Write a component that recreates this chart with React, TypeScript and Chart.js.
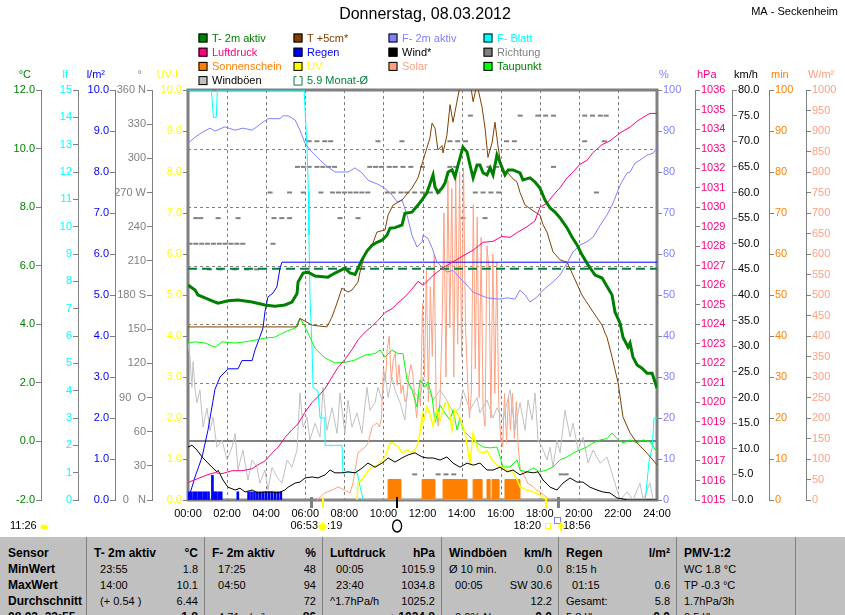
import React, { useEffect, useRef } from 'react';
import { Chart, registerables } from 'chart.js';

Chart.register(...registerables);

const FONT = '"Liberation Sans", Arial, Helvetica, sans-serif';

// ---------------- data (hour of day, value) ----------------
const T2M: [number, number][] = [
  [0, 5.34], [0.36, 5.17], [0.51, 5.0], [0.87, 4.9], [1.38, 4.76], [1.54, 4.72], [2.05, 4.8], [2.56, 4.83], [3.28, 4.76], [3.94, 4.66],
  [4.45, 4.62], [4.96, 4.66], [5.32, 4.76], [5.58, 5.05], [5.63, 5.44], [5.89, 5.75], [6.14, 5.78], [6.5, 5.65], [7.16, 5.61], [7.52, 5.75],
  [8.03, 5.92], [8.29, 5.75], [8.55, 5.7], [8.7, 5.92], [8.9, 6.2], [9.16, 6.5], [9.42, 6.7], [9.67, 6.8], [9.93, 6.87], [10.18, 7.04],
  [10.34, 7.28], [10.59, 7.3], [10.95, 7.39], [11.1, 7.79], [11.46, 7.83], [11.77, 8.07], [12.03, 8.3], [12.23, 8.5], [12.49, 9.0], [12.54, 9.1],
  [12.64, 8.69], [12.79, 8.5], [13.0, 8.65], [13.15, 8.82], [13.31, 9.2], [13.51, 9.27], [13.66, 9.03], [13.82, 9.44], [14.07, 10.05], [14.28, 9.88],
  [14.43, 9.44], [14.59, 9.0], [14.79, 9.44], [14.94, 9.44], [15.1, 9.17], [15.3, 9.1], [15.46, 9.34], [15.61, 9.1], [15.81, 9.78], [16.02, 9.44],
  [16.22, 9.1], [16.38, 9.27], [16.63, 9.27], [16.99, 9.17], [17.14, 8.93], [17.5, 9.0], [17.76, 8.86], [18.01, 8.65], [18.27, 8.24], [18.53, 7.97],
  [18.78, 7.83], [19.04, 7.63], [19.19, 7.49], [19.4, 7.29], [19.65, 6.98], [19.91, 6.71], [20.16, 6.37], [20.47, 6.03], [20.83, 5.68], [21.19, 5.58],
  [21.49, 5.24], [21.7, 5.0], [21.85, 4.42], [22.11, 4.04], [22.26, 3.56], [22.52, 3.22], [22.62, 3.36], [22.77, 2.88], [22.98, 2.61], [23.23, 2.5],
  [23.49, 2.33], [23.75, 2.33], [24.0, 1.82],
];

const T5CM: [number, number][] = [
  [0, 3.91], [5.58, 3.91], [5.73, 4.2], [6.09, 4.07], [6.35, 3.97], [7.11, 3.91], [7.37, 4.25], [7.68, 4.83], [7.88, 5.24], [8.19, 5.1],
  [8.39, 5.17], [8.7, 5.44], [8.8, 5.78], [9.06, 6.43], [9.42, 6.7], [9.67, 7.15], [10.08, 7.22], [10.24, 7.73], [10.49, 8.07], [10.95, 8.24],
  [11.46, 8.65], [11.77, 9.0], [12.03, 9.6], [12.38, 10.36], [12.49, 10.87], [12.64, 10.7], [12.79, 9.95], [13.0, 10.1], [13.05, 9.85], [13.25, 10.46],
  [13.41, 11.5], [13.56, 10.9], [13.82, 11.8], [13.97, 12.3], [14.43, 12.3], [14.59, 11.6], [14.79, 12.2], [15.05, 11.4], [15.2, 10.7], [15.35, 9.7],
  [15.56, 10.2], [15.71, 10.9], [15.86, 10.1], [16.07, 9.2], [16.33, 9.2], [16.58, 9.0], [16.84, 8.85], [16.99, 8.5], [17.25, 8.07], [17.76, 7.83],
  [18.01, 7.73], [18.17, 7.4], [18.37, 7.15], [18.68, 6.47], [19.04, 6.2], [19.4, 6.12], [19.7, 5.68], [20.16, 5.0], [20.73, 4.42], [21.19, 3.97],
  [21.34, 3.7], [21.44, 3.56], [21.7, 2.88], [22.01, 2.0], [22.26, 0.83], [22.62, 0.29], [22.98, -0.05], [23.49, -0.4], [24, -0.8],
];

const DEWPOINT: [number, number][] = [
  [0, 3.36], [0.36, 3.4], [0.87, 3.36], [1.38, 3.22], [1.74, 3.4], [2.41, 3.36], [2.92, 3.4], [3.43, 3.46], [3.94, 3.53], [4.45, 3.56],
  [4.96, 3.74], [5.48, 3.87], [5.73, 4.21], [5.99, 3.91], [6.24, 3.56], [6.5, 3.18], [7.01, 2.85], [7.52, 2.68], [8.03, 2.7], [8.55, 2.78],
  [9.06, 2.95], [9.57, 3.0], [9.83, 3.12], [10.08, 2.88], [10.44, 3.12], [10.75, 3.0], [11.0, 3.0], [11.21, 2.1], [11.46, 1.76], [11.72, 1.18],
  [11.87, 2.1], [12.13, 1.86], [12.28, 2.03], [12.49, 1.52], [12.64, 0.66], [12.9, 1.24], [13.15, 0.97], [13.41, 0.73], [13.56, 1.07], [13.77, 0.39],
  [13.92, 0.83], [14.07, 0.39], [14.43, 0.15], [14.79, -0.05], [15.1, -0.19], [15.46, -0.22], [15.81, -0.19], [16.12, -0.87], [16.48, -0.87], [16.84, -0.63],
  [16.99, -0.98], [17.35, -1.04], [17.66, -0.9], [18.01, -1.04], [18.37, -0.97], [18.68, -0.87], [19.04, -0.63], [19.4, -0.53], [19.7, -0.4], [20.06, -0.29],
  [20.42, -0.19], [20.73, -0.05], [21.09, 0.05], [21.44, 0.1], [21.7, 0.29], [21.95, 0.1], [22.26, -0.05], [22.62, 0.05], [22.98, -0.05], [23.29, 0.05],
  [23.64, 0.0], [24, -0.36],
];

const HUMIDITY: [number, number][] = [
  [0, 87], [0.36, 88.5], [0.77, 89.8], [1.13, 90.7], [1.38, 90], [1.89, 91], [2.41, 90.2], [2.81, 90.7], [3.28, 90.2], [3.43, 90.7],
  [3.79, 92], [4.09, 93], [4.71, 93], [4.86, 93.7], [5.12, 93.7], [5.48, 92.7], [5.73, 90.2], [5.99, 87], [6.24, 85.4], [6.6, 83.7],
  [6.91, 82.2], [7.37, 80.5], [7.52, 80], [8.19, 80], [8.55, 81], [8.9, 79.8], [9.21, 78], [9.72, 77], [10.08, 76], [10.44, 74.4],
  [10.7, 72.7], [10.95, 73.2], [11.21, 69.5], [11.46, 64.6], [11.72, 61.7], [11.98, 63], [12.03, 64.6], [12.28, 63.8], [12.49, 61.5], [12.74, 58],
  [13.0, 56.8], [13.25, 55.6], [13.56, 56], [13.92, 54.1], [14.28, 52.4], [14.59, 50.7], [15.3, 49.3], [15.97, 49], [16.33, 49.3], [16.73, 49],
  [16.99, 51.2], [17.25, 50], [17.5, 48.3], [17.86, 49.5], [18.17, 51.2], [18.37, 52], [18.68, 53.2], [19.04, 54.9], [19.4, 57.8], [19.7, 60.5],
  [20.06, 62.2], [20.42, 63], [20.73, 64.1], [21.09, 67], [21.44, 69.5], [21.75, 72.4], [22.11, 76.8], [22.47, 79.8], [22.62, 80], [22.88, 82.2],
  [23.13, 82.9], [23.49, 84.1], [23.8, 84.6], [24, 85.9],
];

const LEAF: [number, number][] = [
  [0, 15], [1.2, 15], [1.25, 14.5], [1.3, 14.0], [1.45, 14.0], [1.5, 15], [5.94, 15], [6.09, 12.9], [6.16, 11.3], [6.19, 9.7],
  [6.24, 7.5], [6.35, 5.5], [6.4, 4.1], [6.65, 4.0], [6.76, 3.0], [7.0, 3.0], [7.02, 2.0], [7.88, 2.0], [7.93, 1.0], [8.65, 1.0],
  [8.96, 0], [23.4, 0], [23.6, 1.46], [23.75, 1.9], [23.85, 3.0], [24, 3.0],
];

const PRESSURE: [number, number][] = [
  [0, 1015.9], [0.51, 1016.1], [1.02, 1016.3], [1.38, 1016.4], [1.74, 1016.35], [2.25, 1016.5], [2.76, 1016.5], [3.28, 1016.6], [3.58, 1016.8], [3.94, 1017.0],
  [4.3, 1017.4], [4.61, 1017.7], [4.96, 1018.2], [5.32, 1018.6], [5.63, 1018.9], [5.99, 1019.5], [6.35, 1020.0], [6.65, 1020.3], [7.01, 1020.7], [7.37, 1021.3],
  [7.68, 1021.8], [8.03, 1022.2], [8.39, 1022.7], [8.7, 1023.2], [9.06, 1023.6], [9.42, 1023.9], [9.72, 1024.2], [10.08, 1024.6], [10.44, 1024.8], [10.75, 1025.1],
  [11.1, 1025.4], [11.46, 1025.8], [11.77, 1026.2], [12.03, 1026.0], [12.54, 1026.5], [13.05, 1026.9], [13.56, 1027.2], [14.07, 1027.5], [14.59, 1027.8], [15.1, 1028.2],
  [15.61, 1028.25], [16.07, 1028.5], [16.48, 1028.45], [16.84, 1028.7], [17.35, 1029.0], [17.76, 1029.3], [18.01, 1030.0], [18.37, 1030.2], [18.68, 1030.6], [19.04, 1031.0],
  [19.4, 1031.5], [19.7, 1031.8], [20.06, 1032.2], [20.42, 1032.4], [20.73, 1032.8], [21.19, 1033.2], [21.6, 1033.4], [22.11, 1033.8], [22.62, 1034.1], [22.98, 1034.4],
  [23.29, 1034.6], [23.64, 1034.8], [24, 1034.8],
];

const RAIN_TOTAL: [number, number][] = [
  [0, 0], [0.36, 0.56], [0.72, 1.05], [1.02, 1.7], [1.38, 2.7], [1.64, 3.0], [2.05, 3.2], [2.56, 3.2], [2.76, 3.4], [3.28, 3.4],
  [3.43, 3.66], [3.68, 3.98], [3.84, 4.2], [3.94, 4.6], [4.09, 4.95], [4.35, 5.05], [4.55, 5.2], [4.71, 5.66], [4.81, 5.8], [24, 5.8],
];

const RAIN_BARS: [number, number][] = [
  [0.05, 0.2], [0.17, 0.2], [0.3, 0.2], [0.42, 0.2], [0.55, 0.2], [0.67, 0.2], [0.8, 0.2], [0.92, 0.2], [1.05, 0.2], [1.25, 0.6],
  [1.35, 0.2], [1.45, 0.2], [1.58, 0.2], [1.7, 0.2], [2.55, 0.2], [3.1, 0.2], [3.25, 0.2], [3.4, 0.2], [3.55, 0.2], [3.7, 0.2],
  [3.85, 0.2], [4.0, 0.2], [4.15, 0.2], [4.3, 0.2], [4.45, 0.2], [4.6, 0.2], [4.75, 0.2],
];

const WIND: [number, number][] = [
  [0, 10.3], [0.2, 10.7], [0.46, 9.75], [0.72, 8.4], [0.97, 7.4], [1.23, 6.4], [1.48, 5.5], [1.54, 5.8], [1.79, 3.9], [2.05, 2.5],
  [2.41, 1.95], [2.66, 2.3], [2.92, 1.56], [3.28, 1.95], [3.58, 1.37], [3.94, 1.56], [4.3, 1.56], [4.61, 1.37], [4.96, 1.95], [5.12, 2.5],
  [5.48, 3.3], [5.73, 3.5], [5.99, 4.3], [6.35, 4.5], [6.65, 4.3], [7.01, 4.9], [7.27, 5.85], [7.52, 5.3], [7.88, 5.3], [8.19, 5.5],
  [8.55, 5.3], [8.9, 6.2], [9.21, 7.2], [9.57, 6.4], [9.93, 7.2], [10.24, 8.2], [10.59, 7.4], [10.95, 8.2], [11.26, 8.8], [11.62, 9.2],
  [11.98, 8.4], [12.23, 8.2], [12.54, 8.2], [12.9, 7.8], [13.25, 8.4], [13.56, 7.2], [13.92, 6.4], [14.28, 7.2], [14.59, 6.8], [14.94, 7.2],
  [15.3, 5.85], [15.61, 5.85], [15.97, 6.4], [16.33, 5.5], [16.63, 5.85], [16.99, 4.9], [17.35, 5.5], [17.66, 5.3], [17.91, 5.5], [18.17, 3.9],
  [18.53, 2.5], [18.88, 1.95], [19.19, 3.3], [19.55, 4.3], [19.91, 3.5], [20.21, 3.5], [20.57, 2.5], [20.93, 1.95], [21.24, 1.56], [21.6, 1.37],
  [21.95, 0.4], [22.26, 0.2], [22.47, 0], [24, 0],
];

const GUSTS: [number, number][] = [
  [0, 30.6], [0.1, 28], [0.2, 22], [0.26, 27], [0.36, 21.5], [0.46, 19], [0.61, 21.5], [0.77, 14.2], [0.97, 17.9], [1.13, 13.6],
  [1.28, 16.2], [1.48, 10.3], [1.74, 11.7], [2.0, 7.8], [2.25, 10.3], [2.41, 13], [2.56, 5.85], [2.81, 9.75], [3.07, 3.9], [3.28, 7.8],
  [3.53, 6.4], [3.68, 3.3], [3.94, 5.85], [4.09, 1.95], [4.3, 6.4], [4.55, 4.5], [4.81, 3.3], [5.07, 7.8], [5.32, 6.4], [5.58, 9.75],
  [5.73, 20.9], [5.89, 14.2], [6.09, 16.2], [6.24, 11.7], [6.5, 15], [6.76, 12.3], [6.91, 22], [7.11, 13.6], [7.37, 18], [7.63, 13],
  [7.78, 20.9], [8.03, 13], [8.19, 19.5], [8.39, 14.2], [8.65, 17], [8.9, 13], [9.16, 22], [9.31, 17.5], [9.57, 19], [9.72, 22],
  [9.93, 19.5], [10.08, 24.8], [10.24, 20], [10.44, 24], [10.59, 21.5], [10.85, 19], [11.1, 15.6], [11.26, 22.8], [11.62, 20.9], [11.87, 19.5],
  [12.03, 24], [12.23, 22], [12.54, 19.5], [12.9, 21.5], [13.25, 19.5], [13.56, 17], [13.92, 18], [14.07, 21.5], [14.43, 17.5], [14.79, 20],
  [14.94, 17], [15.3, 19.5], [15.61, 16], [15.81, 18], [16.12, 15.6], [16.48, 21.5], [16.73, 13.6], [16.99, 19], [17.25, 13.6], [17.4, 19.5],
  [17.61, 15.6], [17.76, 20.9], [17.91, 11.7], [18.12, 10.3], [18.37, 7.8], [18.53, 10.3], [18.68, 6.4], [18.88, 11.7], [19.04, 9.2], [19.29, 17.5],
  [19.55, 12.3], [19.7, 15], [19.96, 9.75], [20.21, 12.3], [20.47, 7.2], [20.73, 9.75], [21.09, 7.2], [21.44, 8.4], [21.75, 4.5], [22.11, 0],
  [22.47, 1.6], [22.77, 0], [23.13, 3.3], [23.29, 0], [23.64, 3.3], [23.8, 0], [24, 0],
];

const UV: [number, number][] = [
  [8.65, 0], [8.7, 0.44], [8.9, 0.49], [9.16, 0.68], [9.42, 0.8], [9.72, 0.85], [10.08, 1.05], [10.34, 1.39], [10.49, 1.39], [10.75, 1.3],
  [10.95, 1.15], [11.21, 1.22], [11.46, 1.15], [11.72, 1.3], [11.87, 1.63], [11.98, 2.07], [12.03, 1.87], [12.23, 2.27], [12.38, 2.1], [12.54, 1.8],
  [12.74, 2.2], [12.9, 1.95], [13.15, 2.36], [13.31, 2.36], [13.51, 1.7], [13.66, 2.2], [13.92, 2.0], [14.18, 1.63], [14.43, 0.9], [14.59, 1.63],
  [14.84, 1.2], [15.1, 1.15], [15.3, 1.2], [15.56, 0.98], [15.81, 0.85], [16.07, 0.8], [16.33, 0.73], [16.63, 0.68], [16.84, 0.49], [16.99, 0.32],
  [17.35, 0.24], [17.66, 0.2], [18.01, 0.12], [18.37, 0],
];

const SOLAR: [number, number][] = [
  [6.6, 0], [7.0, 17], [7.37, 24], [7.68, 32], [8.03, 24], [8.29, 17], [8.44, 41], [8.7, 115], [9.06, 129], [9.21, 139],
  [9.42, 178], [9.67, 188], [9.8, 178], [9.9, 200], [10.0, 320], [10.1, 290], [10.2, 370], [10.3, 400], [10.4, 290], [10.5, 340],
  [10.6, 360], [10.7, 280], [10.8, 330], [10.9, 260], [11.0, 280], [11.1, 240], [11.2, 250], [11.3, 300], [11.4, 330], [11.5, 310],
  [11.6, 250], [11.7, 200], [11.8, 260], [11.9, 230], [12.0, 480], [12.1, 300], [12.2, 560], [12.3, 240], [12.4, 520], [12.5, 350],
  [12.6, 600], [12.7, 230], [12.8, 180], [12.9, 250], [13.0, 420], [13.1, 700], [13.2, 300], [13.3, 780], [13.4, 420], [13.5, 760],
  [13.6, 300], [13.7, 790], [13.8, 380], [13.9, 800], [14.0, 350], [14.1, 810], [14.2, 420], [14.3, 300], [14.4, 200], [14.5, 260],
  [14.6, 720], [14.7, 320], [14.8, 690], [14.9, 250], [15.0, 640], [15.1, 220], [15.2, 180], [15.3, 620], [15.4, 560], [15.5, 200],
  [15.6, 600], [15.7, 260], [15.8, 580], [15.9, 240], [16.0, 150], [16.1, 130], [16.2, 260], [16.3, 140], [16.4, 250], [16.5, 170],
  [16.6, 260], [16.7, 150], [16.8, 240], [16.9, 130], [17.0, 75], [17.2, 60], [17.4, 40], [17.6, 35], [17.8, 25], [18.0, 20],
  [18.2, 12], [18.4, 5], [18.6, 0],
];

const SUNSHINE: [number, number][] = [
  [0, 0], [10.24, 5], [10.9, 0], [11.98, 5], [12.64, 0], [13.05, 5], [14.28, 0], [14.59, 5], [15.05, 0], [15.3, 5],
  [15.46, 0], [15.56, 5], [15.92, 0], [16.22, 5], [16.99, 0], [24, 0],
];

const DIRECTION: [number, number][] = [
  [0.1, 225], [0.4, 225], [0.7, 225], [1.0, 225], [1.3, 225], [1.6, 225], [1.9, 225], [2.2, 225], [2.5, 225], [2.8, 225], [4.35, 225],
  [1.1, 202.5], [1.64, 202.5], [2.4, 202.5], [3.0, 202.5], [3.5, 202.5],
  [0.4, 247.5], [0.65, 247.5], [1.54, 247.5], [2.56, 247.5], [4.4, 247.5], [4.8, 247.5], [5.2, 247.5], [7.78, 247.5], [8.7, 247.5], [14.07, 247.5], [15.2, 247.5],
  [4.2, 270], [5.2, 270], [5.9, 270], [6.8, 270], [7.4, 270], [7.7, 270], [8.0, 270], [8.3, 270], [8.6, 270], [8.9, 270], [9.2, 270],
  [10.2, 270], [10.5, 270], [10.9, 270], [11.2, 270], [11.6, 270], [12.0, 270], [12.4, 270], [12.8, 270], [14.7, 270], [15.1, 270], [15.5, 270], [15.9, 270], [20.9, 270],
  [5.6, 292.5], [5.9, 292.5], [6.2, 292.5], [6.6, 292.5], [6.9, 292.5], [7.2, 292.5], [7.5, 292.5], [9.3, 292.5], [9.6, 292.5], [9.9, 292.5],
  [10.3, 292.5], [10.6, 292.5], [11.0, 292.5], [11.4, 292.5], [12.0, 292.5], [13.4, 292.5], [13.7, 292.5], [15.4, 292.5], [15.8, 292.5], [18.7, 292.5],
  [6.2, 315], [6.6, 315], [7.0, 315], [7.3, 315], [9.72, 315], [10.95, 315], [13.4, 315], [13.8, 315], [14.2, 315], [16.3, 315], [16.7, 315], [20.3, 315], [21.3, 315],
  [14.45, 337.5], [17.0, 337.5], [17.9, 337.5], [18.3, 337.5], [18.7, 337.5], [20.3, 337.5], [20.7, 337.5], [21.1, 337.5], [21.4, 337.5],
  [11.6, 22.5], [12.8, 22.5], [13.2, 22.5], [13.6, 22.5], [19.1, 22.5], [19.35, 22.5],
];

const MONTH_AVG_TEMP = 5.9;

const DIR_TICK_LABELS: Record<number, string> = { 360: '360 N', 270: '270 W', 180: '180 S', 90: '90  O', 0: '0   N' };

// astronomical events: dawn, sunrise, full moon, sunset, dusk
const EVENT_HOURS = [6.317, 6.883, 10.7, 18.333, 18.933];
const EVENT_COLORS = ['#808080', '#ffff00', '#000000', '#ffff00', '#808080'];

const CHART_TITLE = 'Donnerstag, 08.03.2012';
const STATION = 'MA - Seckenheim';

const LEGEND_LABELS = [
  'T- 2m aktiv', 'T +5cm*', 'F- 2m aktiv', 'F- Blatt',
  'Luftdruck', 'Regen', 'Wind*', 'Richtung',
  'Sonnenschein', 'UV', 'Solar', 'Taupunkt',
  'Windböen', '5.9 Monat-Ø',
];
const LEGEND_BOX = [
  '#008000', '#804000', '#8080ff', '#00ffff',
  '#ff0080', '#0000ff', '#000000', '#808080',
  '#ff8000', '#ffff00', '#ffa080', '#00ff00',
  '#c0c0c0', '',
];
const LEGEND_TEXT = [
  '#008000', '#804000', '#8080ff', '#00ffff',
  '#ff0080', '#0000ff', '#000000', '#808080',
  '#ff8000', '#ffff00', '#ffa080', '#008000',
  '#000000', '#008040',
];

const AXIS_TITLES: { id: string; text: string; color: string }[] = [
  { id: 'yT', text: '°C', color: '#008000' },
  { id: 'yLeaf', text: 'lf', color: '#00ffff' },
  { id: 'yRain', text: 'l/m²', color: '#0000ff' },
  { id: 'yDir', text: '°', color: '#808080' },
  { id: 'yUV', text: 'UV-I', color: '#ffff00' },
  { id: 'yHum', text: '%', color: '#8080ff' },
  { id: 'yP', text: 'hPa', color: '#ff0080' },
  { id: 'yWind', text: 'km/h', color: '#000000' },
  { id: 'yMin', text: 'min', color: '#ff8000' },
  { id: 'ySolar', text: 'W/m²', color: '#ffa080' },
];

const TABLE_EDGES = [0, 86, 204, 322, 441, 558, 676, 795, 845];
const TABLE_CELLS: [string, string][][] = [
  [['Sensor', ''], ['MinWert', ''], ['MaxWert', ''], ['Durchschnitt', ''], ['08.03. 23:55', '']],
  [['T- 2m aktiv', '°C'], ['  23:55', '1.8'], ['  14:00', '10.1'], ['  (+ 0.54 )', '6.44'], ['', '1.8']],
  [['F- 2m aktiv', '%'], ['  17:25', '48'], ['  04:50', '94'], ['', '72'], ['  4.71 g/m³', '86']],
  [['Luftdruck', 'hPa'], ['  00:05', '1015.9'], ['  23:40', '1034.8'], ['^1.7hPa/h', '1025.2'], ['', '▲1034.8']],
  [['Windböen', 'km/h'], ['Ø 10 min.', '0.0'], ['  00:05', 'SW 30.6'], ['', '12.2'], ['  0.0% N', '0.0']],
  [['Regen', 'l/m²'], ['8:15 h', ''], ['  01:15', '0.6'], ['Gesamt:', '5.8'], ['5.8 l/h', '0.0']],
  [['PMV-1:2', ''], ['WC 1.8 °C', ''], ['TP -0.3 °C', ''], ['1.7hPa/3h', ''], ['0.5 l/h', '']],
  [['', ''], ['', ''], ['', ''], ['', ''], ['', '']],
];

// ---------------- helpers ----------------
const toPts = (arr: [number, number][]) => arr.map(([x, y]) => ({ x, y }));
const tickFont = { family: FONT, size: 11 };

function yAxis(position: string, min: number, max: number, step: number, color: string, width: number, weight: number, fmt: (v: number) => string) {
  return {
    type: 'linear',
    position,
    min,
    max,
    weight,
    afterFit: (s: any) => { s.width = width; },
    grid: { drawOnChartArea: false, drawTicks: true, tickLength: 5, color: '#808080', tickColor: '#808080', tickWidth: 1 },
    border: { display: true, color: '#808080', width: 1 },
    ticks: { stepSize: step, color, font: tickFont, padding: 1, autoSkip: false, maxTicksLimit: 1000, callback: (v: any) => fmt(Number(v)) },
  };
}

function lineDs(label: string, data: [number, number][], color: string, yAxisID: string, extra: any = {}) {
  return {
    type: 'line',
    label,
    data: toPts(data),
    borderColor: color,
    backgroundColor: color,
    borderWidth: 1,
    pointRadius: 0,
    tension: 0,
    fill: false,
    xAxisID: 'x',
    yAxisID,
    ...extra,
  };
}

const gridPlugin = {
  id: 'wxGrid',
  beforeDatasetsDraw(chart: any) {
    const { ctx, chartArea: a, scales } = chart;
    ctx.save();
    ctx.strokeStyle = '#808080';
    ctx.lineWidth = 1;
    ctx.setLineDash([3, 3]);
    for (const t of scales.x.ticks) {
      const x = Math.round(scales.x.getPixelForValue(t.value)) + 0.5;
      ctx.beginPath(); ctx.moveTo(x, a.top); ctx.lineTo(x, a.bottom); ctx.stroke();
    }
    for (const t of scales.yT.ticks) {
      if (t.value === 0) continue;
      const y = Math.round(scales.yT.getPixelForValue(t.value)) + 0.5;
      ctx.beginPath(); ctx.moveTo(a.left, y); ctx.lineTo(a.right, y); ctx.stroke();
    }
    ctx.setLineDash([]);
    const y0 = Math.round(scales.yT.getPixelForValue(0));
    ctx.lineWidth = 2;
    ctx.beginPath(); ctx.moveTo(a.left, y0); ctx.lineTo(a.right, y0); ctx.stroke();
    ctx.lineWidth = 3;
    ctx.strokeRect(a.left, a.top, a.right - a.left, a.bottom - a.top);
    ctx.restore();
  },
};

const overlayPlugin = {
  id: 'wxOverlay',
  afterDraw(chart: any) {
    const { ctx, scales } = chart;
    ctx.save();
    ctx.textBaseline = 'middle';
    // title
    ctx.fillStyle = '#000';
    ctx.font = `16px ${FONT}`;
    ctx.textAlign = 'center';
    ctx.fillText(CHART_TITLE, 425, 15);
    ctx.font = `11px ${FONT}`;
    ctx.textAlign = 'right';
    ctx.fillText(STATION, 838, 12);

    // legend
    ctx.textAlign = 'left';
    LEGEND_LABELS.forEach((lab, i) => {
      const col = i % 4;
      const row = Math.floor(i / 4);
      const x = 198.5 + col * 95;
      const y = 38 + row * 14.2;
      if (LEGEND_BOX[i]) {
        ctx.fillStyle = LEGEND_BOX[i];
        ctx.fillRect(x, y - 4.5, 9, 9);
        ctx.strokeStyle = '#000';
        ctx.lineWidth = 1;
        ctx.strokeRect(x + 0.5, y - 4, 8, 8);
      } else {
        ctx.strokeStyle = '#008040';
        ctx.lineWidth = 1;
        ctx.beginPath();
        ctx.moveTo(x + 3, y - 4); ctx.lineTo(x + 0.5, y - 4); ctx.lineTo(x + 0.5, y + 4.5); ctx.lineTo(x + 8.5, y + 4.5); ctx.lineTo(x + 8.5, y - 4); ctx.lineTo(x + 6, y - 4);
        ctx.stroke();
      }
      ctx.fillStyle = LEGEND_TEXT[i];
      ctx.fillText(lab, x + 13.5, y + 0.5);
    });

    // axis titles
    ctx.font = `11px ${FONT}`;
    AXIS_TITLES.forEach(({ id, text, color }) => {
      const s = scales[id];
      if (!s) return;
      ctx.fillStyle = color;
      if (s.position === 'left') {
        ctx.textAlign = 'right';
        ctx.fillText(text, s.right - 10, 75);
      } else {
        ctx.textAlign = 'left';
        ctx.fillText(text, s.left + 2, 75);
      }
    });

    // event markers below the time axis
    const a = chart.chartArea;
    EVENT_HOURS.forEach((h, i) => {
      const x = Math.round(scales.x.getPixelForValue(h));
      ctx.fillStyle = EVENT_COLORS[i];
      const w = EVENT_COLORS[i] === '#808080' ? 3 : 2;
      ctx.fillRect(x - 1, a.bottom - 3, w, 11);
    });

    // event texts
    ctx.fillStyle = '#000';
    ctx.font = `11px ${FONT}`;
    ctx.textAlign = 'left';
    ctx.fillText('11:26', 10, 526);
    ctx.fillStyle = '#ffff00';
    ctx.beginPath(); ctx.ellipse(44, 527, 3.5, 2.5, 0, 0, Math.PI * 2); ctx.fill();

    ctx.fillStyle = '#000';
    ctx.textAlign = 'right';
    ctx.fillText('06:53', 318, 526);
    ctx.textAlign = 'left';
    ctx.fillText(':19', 327, 526);
    // sun
    const sx = scales.x.getPixelForValue(EVENT_HOURS[1]);
    ctx.fillStyle = '#ffff00';
    ctx.strokeStyle = '#ffff00';
    ctx.lineWidth = 1;
    for (let k = 0; k < 8; k++) {
      const ang = (k * Math.PI) / 4;
      ctx.beginPath();
      ctx.moveTo(sx + Math.cos(ang) * 3.5, 527 + Math.sin(ang) * 3.5);
      ctx.lineTo(sx + Math.cos(ang) * 5, 527 + Math.sin(ang) * 5);
      ctx.stroke();
    }
    ctx.beginPath(); ctx.arc(sx, 527, 3.5, 0, Math.PI * 2); ctx.fill();

    // full moon
    const mx = scales.x.getPixelForValue(EVENT_HOURS[2]);
    ctx.strokeStyle = '#000';
    ctx.lineWidth = 1.3;
    ctx.beginPath(); ctx.ellipse(mx, 526, 4.5, 6, 0, 0, Math.PI * 2); ctx.stroke();

    // sunset / dusk
    ctx.fillStyle = '#000';
    ctx.textAlign = 'right';
    ctx.fillText('18:20', 541, 526);
    ctx.strokeStyle = '#ffff00';
    ctx.lineWidth = 1;
    ctx.strokeRect(545.5, 523.5, 5, 5);
    ctx.strokeStyle = '#0000ff';
    ctx.setLineDash([1, 1]);
    ctx.strokeRect(554.5, 517.5, 6, 6);
    ctx.setLineDash([]);
    ctx.fillStyle = '#ffff00';
    ctx.beginPath(); ctx.moveTo(561, 521); ctx.lineTo(564, 527); ctx.lineTo(558, 527); ctx.closePath(); ctx.fill();
    ctx.fillRect(560, 527, 2, 4);
    ctx.fillStyle = '#000';
    ctx.textAlign = 'left';
    ctx.fillText('18:56', 563, 526);

    ctx.restore();
  },
};

function InfoTable() {
  return (
    <div style={{ position: 'absolute', left: 0, top: 537, width: 845, height: 78, background: '#c0c0c0', overflow: 'hidden', fontFamily: FONT, color: '#000' }}>
      {TABLE_CELLS.map((col, ci) => {
        const x0 = TABLE_EDGES[ci];
        const x1 = TABLE_EDGES[ci + 1];
        return (
          <div key={ci} style={{ position: 'absolute', left: x0, top: 0, width: x1 - x0, height: 78, boxSizing: 'border-box', borderLeft: ci ? '1px solid #808080' : 'none', paddingTop: 8 }}>
            {col.map((cell, ri) => {
              const leftBold = ri === 0 || ci === 0;
              const rightBold = ri === 0 || ri === 4;
              return (
                <div key={ri} style={{ display: 'flex', justifyContent: 'space-between', alignItems: 'center', height: 16, lineHeight: '16px', paddingLeft: ci === 0 ? 8 : 7, paddingRight: 6, whiteSpace: 'pre' }}>
                  <span style={{ fontWeight: leftBold ? 'bold' : 'normal', fontSize: leftBold ? 12 : 11 }}>{cell[0]}</span>
                  <span style={{ fontWeight: rightBold ? 'bold' : 'normal', fontSize: rightBold ? 12 : 11 }}>{cell[1]}</span>
                </div>
              );
            })}
          </div>
        );
      })}
    </div>
  );
}

export default function App() {
  const canvasRef = useRef<HTMLCanvasElement | null>(null);

  useEffect(() => {
    const canvas = canvasRef.current;
    if (!canvas) return;
    const datasets: any[] = [
      lineDs('T- 2m aktiv', T2M, '#008000', 'yT', { borderWidth: 3 }),
      lineDs('T +5cm*', T5CM, '#804000', 'yT'),
      lineDs('Luftdruck', PRESSURE, '#ff0080', 'yP'),
      lineDs('F- 2m aktiv', HUMIDITY, '#8080ff', 'yHum'),
      lineDs('Wind*', WIND, '#000000', 'yWind'),
      lineDs('UV', UV, '#ffff00', 'yUV', { borderWidth: 1.5 }),
      lineDs('Taupunkt', DEWPOINT, '#00ff00', 'yT'),
      lineDs('Regen', RAIN_TOTAL, '#0000ff', 'yRain'),
      lineDs('5.9 Monat-Ø', [[0, MONTH_AVG_TEMP], [24, MONTH_AVG_TEMP]], '#008040', 'yT', { borderWidth: 2, borderDash: [9, 5] }),
      lineDs('F- Blatt', LEAF, '#00ffff', 'yLeaf'),
      lineDs('Windböen', GUSTS, '#c0c0c0', 'yWind'),
      lineDs('Solar', SOLAR, '#ffa080', 'ySolar'),
      {
        type: 'line', label: 'Richtung', data: toPts(DIRECTION), showLine: false,
        pointStyle: 'line', pointRadius: 2.5, pointBorderWidth: 2, pointBorderColor: '#808080', borderColor: '#808080',
        xAxisID: 'x', yAxisID: 'yDir',
      },
      {
        type: 'bar', label: 'Regen/Int', data: toPts(RAIN_BARS), backgroundColor: '#0000ff', borderWidth: 0,
        barThickness: 2, xAxisID: 'x', yAxisID: 'yRain',
      },
      lineDs('Sonnenschein', SUNSHINE, '#ff8000', 'yMin', { stepped: true, fill: 'origin', backgroundColor: '#ff8000' }),
    ];

    const chart = new Chart(canvas, {
      type: 'line',
      data: { datasets },
      options: {
        animation: false,
        responsive: false,
        events: [],
        layout: { padding: { top: 90, left: 0, right: 0, bottom: 0 }, autoPadding: false },
        plugins: { legend: { display: false }, tooltip: { enabled: false }, title: { display: false } },
        scales: {
          x: {
            type: 'linear', position: 'bottom', min: 0, max: 24, offset: false,
            afterFit: (s: any) => { s.height = 37; },
            grid: { drawOnChartArea: false, drawTicks: false },
            border: { display: false },
            ticks: { stepSize: 2, color: '#000', font: tickFont, padding: 7, autoSkip: false, maxRotation: 0, callback: (v: any) => String(v).padStart(2, '0') + ':00' },
          },
          yT: yAxis('left', -2, 12, 2, '#008000', 41, 5, (v) => v.toFixed(1)),
          yLeaf: yAxis('left', 0, 15, 1, '#00ffff', 37, 4, (v) => String(Math.round(v))),
          yRain: yAxis('left', 0, 10, 1, '#0000ff', 37, 3, (v) => v.toFixed(1)),
          yDir: yAxis('left', 0, 360, 30, '#808080', 37, 2, (v) => DIR_TICK_LABELS[Math.round(v)] ?? String(Math.round(v))),
          yUV: yAxis('left', 0, 10, 1, '#ffff00', 36, 1, (v) => v.toFixed(1)),
          yHum: yAxis('right', 0, 100, 10, '#8080ff', 38, 1, (v) => String(Math.round(v))),
          yP: yAxis('right', 1015, 1036, 1, '#ff0080', 37, 2, (v) => String(Math.round(v))),
          yWind: yAxis('right', 0, 80, 5, '#000000', 37, 3, (v) => v.toFixed(1)),
          yMin: yAxis('right', 0, 100, 10, '#ff8000', 37, 4, (v) => String(Math.round(v))),
          ySolar: yAxis('right', 0, 1000, 50, '#ffa080', 39, 5, (v) => String(Math.round(v))),
        } as any,
      },
      plugins: [gridPlugin, overlayPlugin],
    } as any);

    return () => chart.destroy();
  }, []);

  return (
    <div style={{ position: 'absolute', left: 0, top: 0, width: 845, height: 615, background: '#fff', overflow: 'hidden' }}>
      <canvas ref={canvasRef} width={845} height={537} style={{ display: 'block', width: 845, height: 537 }} />
      <InfoTable />
    </div>
  );
}
